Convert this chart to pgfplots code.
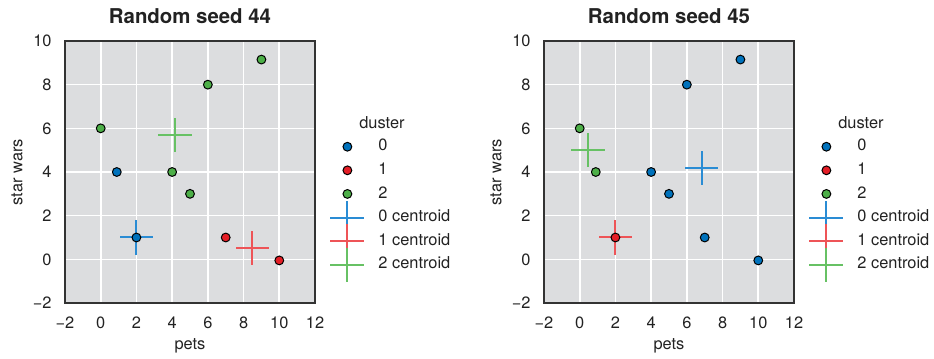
\documentclass[border=0pt]{standalone}
\usepackage{fontspec}
\setmainfont{TeX Gyre Heros}
\usepackage{pgfplots}
\pgfplotsset{compat=1.18}

\definecolor{bgcol}{HTML}{DCDDDF}
\definecolor{framecol}{HTML}{333333}
\definecolor{textcol}{HTML}{222222}
\definecolor{cblue}{HTML}{0072BC}
\definecolor{cred}{HTML}{E41E26}
\definecolor{cgreen}{HTML}{4DAF48}
\definecolor{lblue}{HTML}{2A8CD4}
\definecolor{lred}{HTML}{EE5457}
\definecolor{lgreen}{HTML}{67C164}

\newcommand{\tickfont}{\fontsize{8.2}{10}\selectfont}

\pgfplotsset{
  kplot/.style={
    scale only axis, width=125pt, height=131pt, anchor=south west,
    xmin=-2, xmax=12, ymin=-2, ymax=10, clip=false,
    xtick={-2,0,...,12}, ytick={-2,0,...,10},
    xticklabels={−2,0,2,4,6,8,10,12}, yticklabels={−2,0,2,4,6,8,10},
    major tick length=0pt,
    grid=major, grid style={white, line width=0.8pt},
    axis background/.style={fill=bgcol},
    axis line style={draw=framecol, line width=0.8pt},
    tick label style={font=\tickfont, text=textcol},
    xticklabel style={inner sep=0pt, yshift=-6.8pt},
    yticklabel style={inner sep=0pt, xshift=-6.5pt},
    label style={font=\tickfont, text=textcol},
    xlabel=pets, ylabel=star wars,
    xlabel style={at={(axis description cs:0.5,-0.164)}, anchor=center},
    ylabel style={at={(axis description cs:-0.192,0.5)}, anchor=center},
    legend style={at={(1.032,0.643)}, anchor=north west, draw=none, fill=none,
      font=\tickfont, text=textcol, row sep=4pt, column sep=6.5pt,
      nodes={inner sep=0pt, text height=6pt, text depth=1.8pt}},
    legend cell align=left,
  },
  dotleg/.style={legend image code/.code={\path[draw=none, fill=none] (0pt,-3pt) rectangle (17pt,3pt);
      \draw[##1] plot coordinates {(8.5pt,0pt)};}},
  crossleg/.style={legend image code/.code={\path[draw=none, fill=none] (0pt,-3pt) rectangle (17pt,3pt);
      \draw[##1] (0pt,0pt) -- (17pt,0pt);
      \draw[##1,overlay] (8.5pt,-8.5pt) -- (8.5pt,8.5pt);}},
  dot/.style={color=black, mark=*, mark size=2.2pt, mark options={draw=black, line width=0.5pt, fill=#1}},
  % centroid cross: +/- 17 px in both directions (0.94 x units, 0.78 y units)
  cross/.style={draw=none, mark=none, color=#1,
    error bars/.cd, x dir=both, x fixed=0.94, y dir=both, y fixed=0.78,
    error mark=none, error bar style={draw=#1, line width=1pt}},
}

\begin{document}
\begin{tikzpicture}
\useasboundingbox (0,0) rectangle (467pt,179.5pt);

% ---- seed 44 ----
\begin{axis}[kplot, at={(32.5pt,28pt)}]
\addplot[forget plot, cross=lblue] coordinates {(2,1)};
\addplot[forget plot, cross=lred] coordinates {(8.5,0.5)};
\addplot[forget plot, cross=lgreen] coordinates {(4.15,5.7)};
\addplot[forget plot, only marks, dot=cblue] coordinates {(0.9,4) (2,1)};
\addplot[forget plot, only marks, dot=cred] coordinates {(7,1) (10,-0.05)};
\addplot[forget plot, only marks, dot=cgreen] coordinates {(0,6) (4,4) (5,3) (6,8) (9,9.15)};
\addlegendimage{dot=cblue, dotleg}\addlegendentry{0}
\addlegendimage{dot=cred, dotleg}\addlegendentry{1}
\addlegendimage{dot=cgreen, dotleg}\addlegendentry{2}
\addlegendimage{draw=lblue, line width=1pt, crossleg}\addlegendentry{0 centroid}
\addlegendimage{draw=lred, line width=1pt, crossleg}\addlegendentry{1 centroid}
\addlegendimage{draw=lgreen, line width=1pt, crossleg}\addlegendentry{2 centroid}
\node[font=\tickfont, text=textcol] at (rel axis cs:1.268,0.69) {duster};
\node[font=\fontsize{10.2}{12}\selectfont\bfseries, text=textcol, anchor=base]
  at (rel axis cs:0.5,1) [yshift=8.5pt] {Random seed 44};
\end{axis}

% ---- seed 45 ----
\begin{axis}[kplot, at={(272pt,28pt)}]
\addplot[forget plot, cross=lblue] coordinates {(6.83,4.19)};
\addplot[forget plot, cross=lred] coordinates {(2,1)};
\addplot[forget plot, cross=lgreen] coordinates {(0.45,5)};
\addplot[forget plot, only marks, dot=cblue] coordinates {(4,4) (5,3) (6,8) (7,1) (9,9.15) (10,-0.05)};
\addplot[forget plot, only marks, dot=cred] coordinates {(2,1)};
\addplot[forget plot, only marks, dot=cgreen] coordinates {(0,6) (0.9,4)};
\addlegendimage{dot=cblue, dotleg}\addlegendentry{0}
\addlegendimage{dot=cred, dotleg}\addlegendentry{1}
\addlegendimage{dot=cgreen, dotleg}\addlegendentry{2}
\addlegendimage{draw=lblue, line width=1pt, crossleg}\addlegendentry{0 centroid}
\addlegendimage{draw=lred, line width=1pt, crossleg}\addlegendentry{1 centroid}
\addlegendimage{draw=lgreen, line width=1pt, crossleg}\addlegendentry{2 centroid}
\node[font=\tickfont, text=textcol] at (rel axis cs:1.268,0.69) {duster};
\node[font=\fontsize{10.2}{12}\selectfont\bfseries, text=textcol, anchor=base]
  at (rel axis cs:0.5,1) [yshift=8.5pt] {Random seed 45};
\end{axis}
\end{tikzpicture}
\end{document}
